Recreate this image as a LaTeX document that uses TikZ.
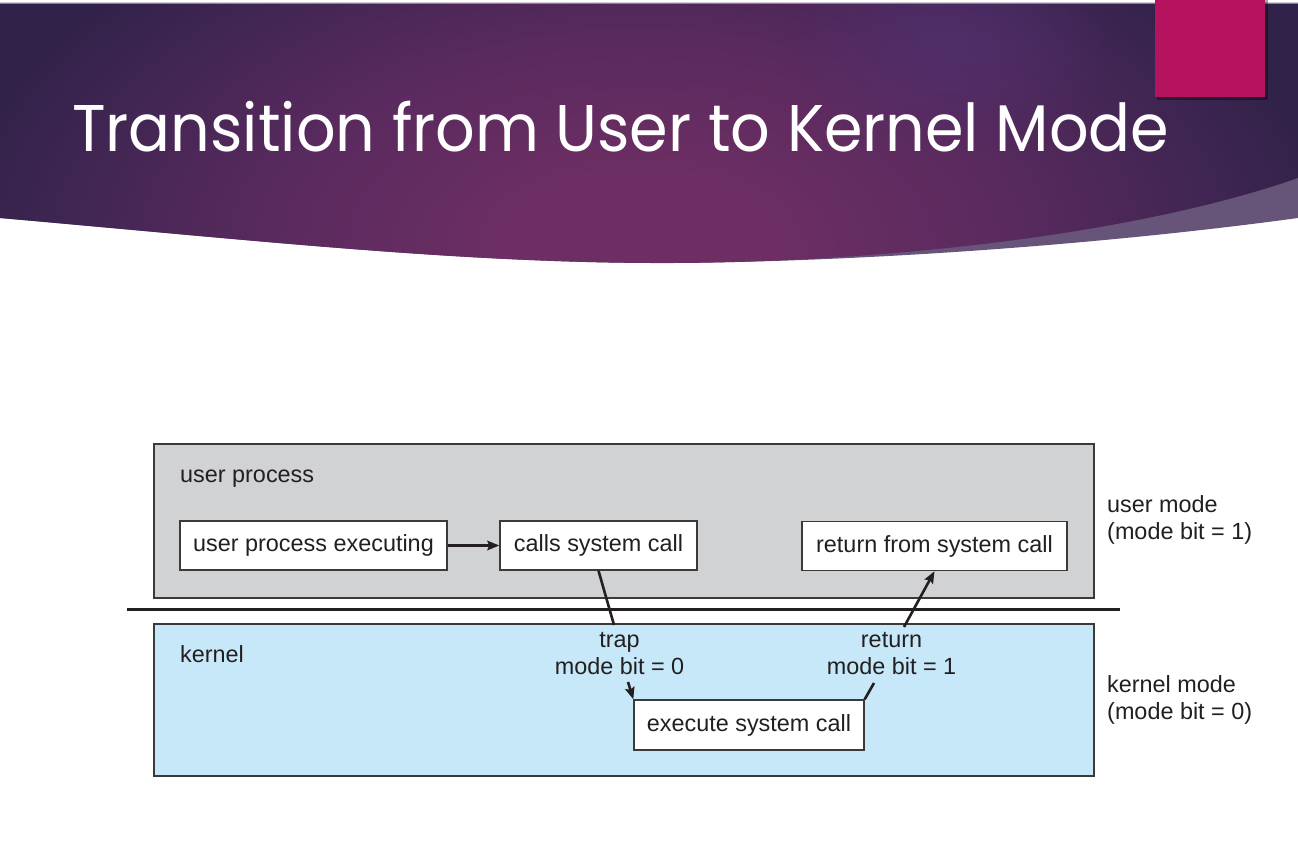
\documentclass[tikz,border=0pt]{standalone}
\usepackage{fontspec}
\setmainfont{Liberation Sans}
\newfontfamily\titlefont{Poppins}
\usetikzlibrary{arrows.meta,fadings}
\definecolor{txt}{HTML}{231F20}
\definecolor{bord}{HTML}{3A3A3A}
\definecolor{usergray}{HTML}{D1D2D4}
\definecolor{kernblue}{HTML}{C7E8F8}
\definecolor{hc1}{HTML}{6C2E63}
\definecolor{hc2}{HTML}{5A2A5E}
\definecolor{hc3}{HTML}{3E2552}
\definecolor{hc4}{HTML}{302248}
\definecolor{band}{HTML}{675479}
\definecolor{hilite}{HTML}{523070}
\definecolor{pink}{HTML}{B5135F}
\definecolor{topline}{HTML}{8C7C9C}
\pgfdeclareradialshading{hdr}{\pgfpoint{0bp}{0bp}}{color(0bp)=(hc1); color(5bp)=(hc1); color(13bp)=(hc2); color(21bp)=(hc3); color(25bp)=(hc4); color(50bp)=(hc4)}
\tikzfading[name=softout, inner color=transparent!0, outer color=transparent!100]
\newcommand{\dfont}{\fontsize{23.4}{27}\selectfont}
\tikzset{
  panel/.style={draw=bord, line width=1.6pt, inner sep=0pt},
  stepbox/.style={draw=bord, fill=white, line width=1.4pt, minimum height=49pt, inner sep=0pt, font=\dfont, text=txt},
  lab/.style={font=\dfont, text=txt, inner sep=0pt},
  conn/.style={line width=2.6pt, draw=txt},
  arr/.style={conn, -{Stealth[length=12pt,width=9.5pt,inset=2pt]}}
}
\begin{document}
\begin{tikzpicture}[x=1pt,y=-1pt]
\useasboundingbox (0,0) rectangle (1298,858);
% header
\fill[band] (0,3) -- (0,218) .. controls (250,240) and (450,262) .. (650,263)
   .. controls (850,263) and (1100,245) .. (1298,218) -- (1298,3) -- cycle;
\begin{scope}
\clip (0,3) -- (0,218) .. controls (250,240) and (450,262) .. (650,263)
   .. controls (850,264) and (1120,240) .. (1298,178) -- (1298,3) -- cycle;
\shade[shading=hdr] (-60,-150) rectangle (1340,650);
\fill[hilite, path fading=softout, fill opacity=0.75] (950,45) ellipse (170 and 110);
\end{scope}
\draw[topline, line width=1pt] (0,3.5) -- (1298,3.5);
\fill[black, opacity=0.35] (1157,0) rectangle (1268,100);
\fill[pink] (1155,0) rectangle (1265,97);
\node[font=\titlefont\fontsize{66}{70}\selectfont, text=white, anchor=base west, inner sep=0pt, xscale=0.94] (title) at (72,152) {Transition from User to Kernel Mode};
% panels
\node[panel, fill=usergray, minimum width=940pt, minimum height=154pt, anchor=north west] (userpanel) at (153,443) {};
\node[panel, fill=kernblue, minimum width=940pt, minimum height=152pt, anchor=north west] (kernpanel) at (153,623) {};
\coordinate (sepL) at (127,609.5);
\coordinate (sepR) at (1120,609.5);
\draw[line width=3pt, txt] (sepL) -- (sepR);
% labels
\node[lab, anchor=base west] (uplab) at (180,482) {user process};
\node[lab, anchor=base west] (klab) at (180,662) {kernel};
\node[lab, anchor=base west] (um1) at (1107,512) {user mode};
\node[lab, anchor=base west] (um2) at (1107,539) {(mode bit = 1)};
\node[lab, anchor=base west] (km1) at (1107,692) {kernel mode};
\node[lab, anchor=base west] (km2) at (1107,719) {(mode bit = 0)};
\node[lab, anchor=base] (tr1) at (619.5,647) {trap};
\node[lab, anchor=base] (tr2) at (619.5,674) {mode bit = 0};
\node[lab, anchor=base] (rt1) at (891.5,647) {return};
\node[lab, anchor=base] (rt2) at (891.5,674) {mode bit = 1};
% boxes
\node[stepbox, minimum width=267pt] (box1) at (313.5,545.5) {user process executing};
\node[stepbox, minimum width=197pt] (box2) at (598.5,545.5) {calls system call};
\node[stepbox, minimum width=265pt] (box3) at (934.5,546) {return from system call};
\node[stepbox, minimum width=230pt, minimum height=50pt] (box4) at (749,725) {execute system call};
% connectors
\draw[arr] (box1) -- (box2);
\coordinate (trapA) at (614,625);
\coordinate (trapB) at (628,682);
\draw[conn] (box2.south) -- (trapA);
\draw[arr] (trapB) -- (box4.north west);
\coordinate (retA) at (874,683);
\coordinate (retB) at (904,627);
\draw[conn] (box4.north east) -- (retA);
\draw[arr] (retB) -- (box3.south);
\end{tikzpicture}
\end{document}
